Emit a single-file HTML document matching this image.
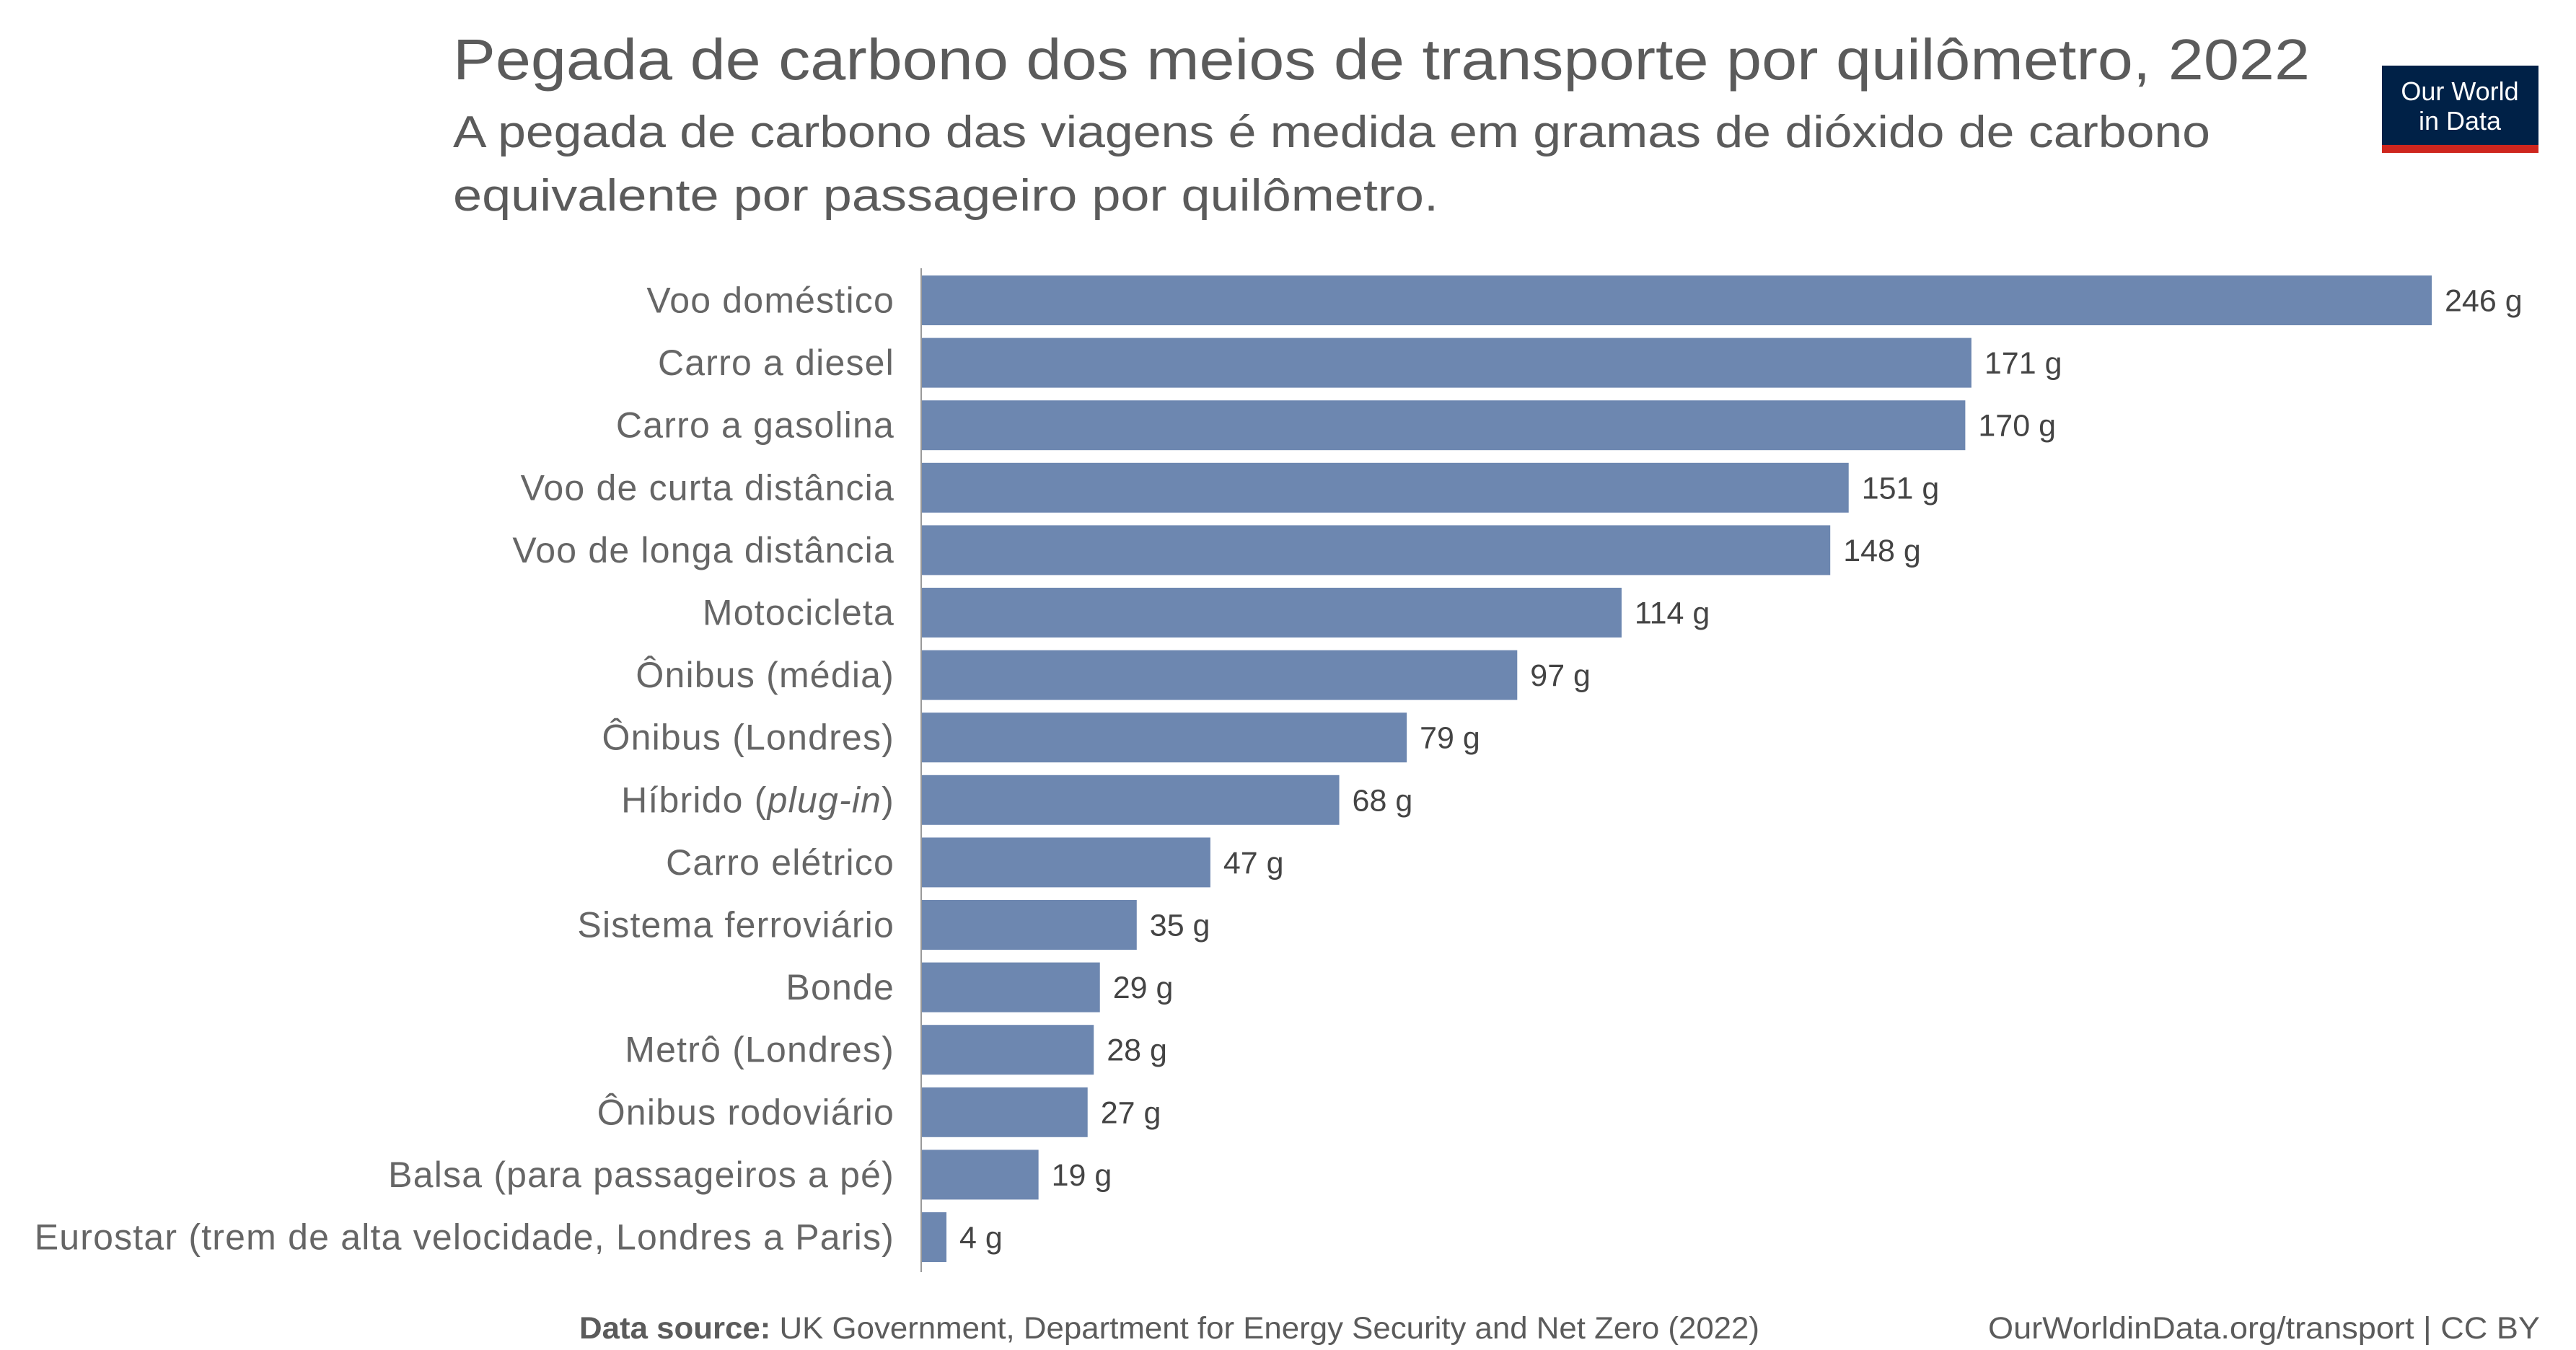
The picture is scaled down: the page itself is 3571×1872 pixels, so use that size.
<!DOCTYPE html>
<html><head><meta charset="utf-8"><style>
html,body{margin:0;padding:0;background:#fff;}
svg{display:block;font-family:"Liberation Sans",sans-serif;}
</style></head><body>
<svg id="chart" width="3571" height="1872" viewBox="0 0 3571 1872" xmlns="http://www.w3.org/2000/svg">
<rect width="3571" height="1872" fill="#fff"/>
<text x="628" y="110" font-size="80" fill="#5b5b5b" textLength="2574" lengthAdjust="spacingAndGlyphs">Pegada de carbono dos meios de transporte por quilômetro, 2022</text>
<text x="628" y="204" font-size="62" fill="#5b5b5b" textLength="2436" lengthAdjust="spacingAndGlyphs">A pegada de carbono das viagens é medida em gramas de dióxido de carbono</text>
<text x="628" y="292" font-size="62" fill="#5b5b5b" textLength="1366" lengthAdjust="spacingAndGlyphs">equivalente por  passageiro por quilômetro.</text>
<g>
<rect x="3302" y="91" width="217" height="121" fill="#002147"/>
<rect x="3302" y="201" width="217" height="11" fill="#ce261e"/>
<text x="3410" y="139" font-size="36" fill="#fff" text-anchor="middle">Our World</text>
<text x="3410" y="180" font-size="36" fill="#fff" text-anchor="middle">in Data</text>
</g>
<line x1="1277" y1="372" x2="1277" y2="1764" stroke="#999" stroke-width="2"/>
<g id="bars"></g>
<text x="803" y="1856" font-size="43" fill="#5b5b5b" textLength="1636" lengthAdjust="spacingAndGlyphs"><tspan font-weight="bold">Data source:</tspan> UK Government, Department for Energy Security and Net Zero (2022)</text>
<text x="3521" y="1856" font-size="43" fill="#5b5b5b" text-anchor="end" textLength="765" lengthAdjust="spacingAndGlyphs">OurWorldinData.org/transport | CC BY</text>
</svg>
<script>
const categories = ["Voo doméstico","Carro a diesel","Carro a gasolina","Voo de curta distância","Voo de longa distância","Motocicleta","Ônibus (média)","Ônibus (Londres)","Híbrido (plug-in)","Carro elétrico","Sistema ferroviário","Bonde","Metrô (Londres)","Ônibus rodoviário","Balsa (para passageiros a pé)","Eurostar (trem de alta velocidade, Londres a Paris)"];
const values = [246,171,170,151,148,114,97,79,68,47,35,29,28,27,19,4];
const valueLabels = values.map(v => v + " g");

const x0 = 1278, xMax = 3371, vMax = 246;
const xScale = v => x0 + (v / vMax) * (xMax - x0);
const top0 = 382, pitch = 86.6, barH = 69;
const yScale = i => top0 + i * pitch;
const NS = "http://www.w3.org/2000/svg";
const g = document.getElementById("bars");
categories.forEach((c, i) => {
  const y = yScale(i);
  const r = document.createElementNS(NS, "rect");
  r.setAttribute("x", x0);
  r.setAttribute("y", y);
  r.setAttribute("width", xScale(values[i]) - x0);
  r.setAttribute("height", barH);
  r.setAttribute("fill", "#6d87b0");
  
  
  g.appendChild(r);
  const t = document.createElementNS(NS, "text");
  t.setAttribute("x", 1240);
  t.setAttribute("y", y + barH / 2 + 17);
  t.setAttribute("font-size", "50");
  t.setAttribute("letter-spacing", "1.2");
  t.setAttribute("fill", "#666");
  t.setAttribute("text-anchor", "end");
  if (c.indexOf("plug-in") >= 0) {
    t.innerHTML = 'Híbrido (<tspan font-style="italic">plug-in</tspan>)';
  } else {
    t.textContent = c;
  }
  
  
  g.appendChild(t);
  const v = document.createElementNS(NS, "text");
  v.setAttribute("x", xScale(values[i]) + 18);
  v.setAttribute("y", y + barH / 2 + 15);
  v.setAttribute("font-size", "43");
  v.setAttribute("fill", "#444");
  v.textContent = valueLabels[i];
  
  
  g.appendChild(v);
});
</script>
</body></html>
